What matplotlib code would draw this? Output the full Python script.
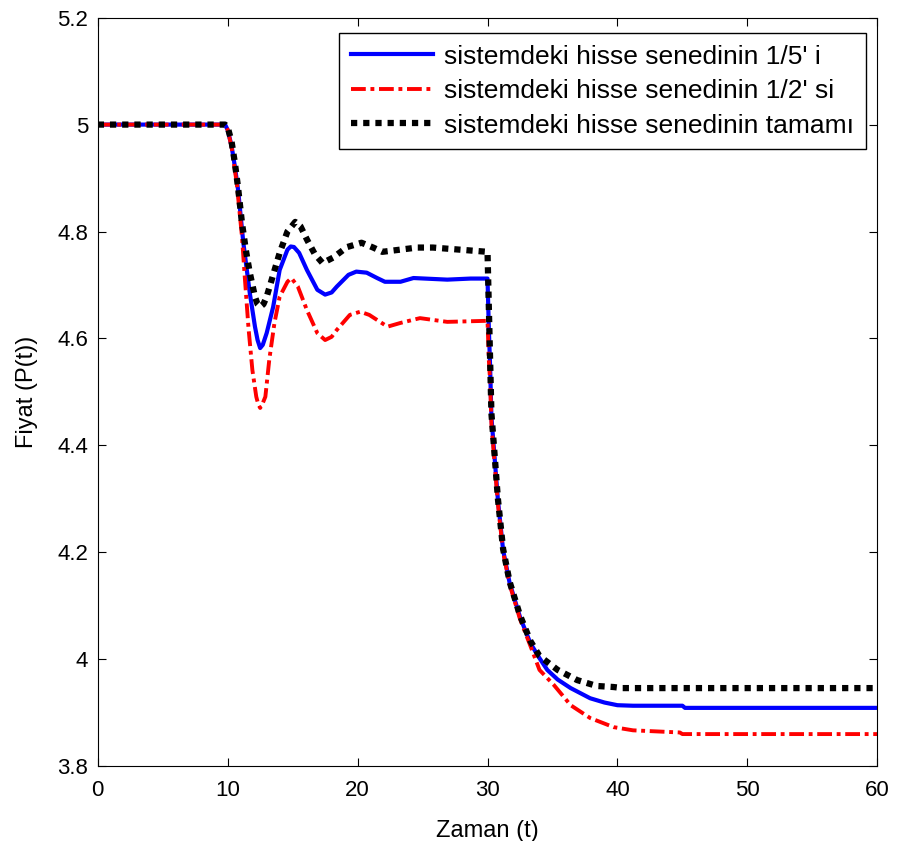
import numpy as np
import matplotlib
matplotlib.use('Agg')
import matplotlib.pyplot as plt
from matplotlib.ticker import FuncFormatter

plt.rcParams['font.family'] = ['Liberation Sans', 'DejaVu Sans']

# ---- data ----
t_blue = [0, 9.8, 10.0, 10.3, 10.55, 10.8, 11.2, 11.7, 12.1, 12.3, 12.5, 12.7, 13.0, 13.5, 14.0, 14.6, 14.85,
          15.1, 15.5, 16.1, 16.9, 17.5, 18.0, 18.4, 19.3, 19.9, 20.7, 21.5, 22.1, 23.3, 24.3, 26.9,
          28.7, 30.0, 30.1, 30.2, 30.3, 30.6, 30.8, 31.2, 31.7, 32.5, 33.3, 34.0,
          34.6, 35.4, 36.4, 37.9, 39.0, 40.0, 41.2, 45.0, 45.2, 60]
p_blue = [5.0, 5.0, 4.99, 4.960, 4.922, 4.878, 4.780, 4.685, 4.622, 4.597, 4.582, 4.588, 4.610, 4.659, 4.728, 4.766, 4.772,
          4.771, 4.760, 4.728, 4.691, 4.682, 4.686, 4.697, 4.719, 4.725, 4.723, 4.713, 4.706, 4.706, 4.713, 4.710,
          4.712, 4.712, 4.62, 4.547, 4.453, 4.360, 4.298, 4.204, 4.143, 4.079, 4.030, 4.002,
          3.980, 3.962, 3.946, 3.927, 3.919, 3.914, 3.913, 3.913, 3.909, 3.909]

t_red = [0, 9.8, 10.0, 10.3, 10.7, 11.1, 11.3, 11.6, 11.9, 12.2, 12.35, 12.5, 12.65, 12.9, 13.2, 13.6, 14.0,
         14.6, 14.9, 15.4, 16.1, 16.9, 17.5, 18.0, 18.4, 19.4, 20.2, 20.9, 22.3, 23.3, 24.8, 26.9, 30.0,
         30.1, 30.2, 30.3, 30.6, 30.8, 31.2, 31.7, 32.5, 33.3, 34.0, 35.1, 36.4,
         37.9, 39.7, 41.2, 44.8, 45.0, 60]
p_red = [5.0, 5.0, 4.99, 4.958, 4.890, 4.790, 4.720, 4.620, 4.541, 4.491, 4.477, 4.470, 4.476, 4.491, 4.560, 4.629, 4.678,
         4.706, 4.713, 4.697, 4.653, 4.610, 4.597, 4.603, 4.616, 4.644, 4.650, 4.644, 4.622, 4.629, 4.638, 4.631, 4.633,
         4.56, 4.52, 4.44, 4.350, 4.290, 4.200, 4.140, 4.075, 4.025, 3.980, 3.952, 3.914,
         3.890, 3.873, 3.867, 3.863, 3.860, 3.860]

t_black = [0, 9.8, 10.0, 10.3, 10.55, 10.8, 11.1, 11.4, 11.7, 12.1, 12.3, 12.5, 12.75, 13.0, 13.5, 14.0, 14.6, 15.2,
           15.6, 16.1, 16.7, 17.3, 18.1, 19.2, 20.3, 21.2, 21.9, 24.6, 25.8, 30.0, 30.1, 30.2,
           30.3, 30.6, 30.8, 31.2, 31.7, 32.5, 33.3, 34.0, 35.4, 36.9, 38.4, 39.7,
           40.4, 60]
p_black = [5.0, 5.0, 4.995, 4.968, 4.929, 4.882, 4.816, 4.765, 4.723, 4.678, 4.664, 4.659, 4.664, 4.678, 4.719, 4.760, 4.800, 4.818,
           4.810, 4.785, 4.758, 4.741, 4.751, 4.771, 4.779, 4.770, 4.762, 4.770, 4.770, 4.762, 4.66, 4.56,
           4.46, 4.365, 4.300, 4.206, 4.145, 4.082, 4.034, 4.006, 3.980, 3.961, 3.950, 3.948,
           3.946, 3.946]

labels = ["sistemdeki hisse senedinin 1/5' i",
          "sistemdeki hisse senedinin 1/2' si",
          "sistemdeki hisse senedinin tamamı"]

x_ticks = [0, 10, 20, 30, 40, 50, 60]
y_ticks = [3.8, 4.0, 4.2, 4.4, 4.6, 4.8, 5.0, 5.2]

fig = plt.figure(figsize=(8.97, 8.41), dpi=100)
ax = fig.add_axes([0.109, 0.089, 0.869, 0.890])

ax.plot(t_blue, p_blue, color='#0000ff', lw=3, ls='-', label=labels[0])
ax.plot(t_red, p_red, color='#ff0000', lw=2.8, ls=(0, (3.8, 1.2, 1, 1.2)), label=labels[1])
ax.plot(t_black, p_black, color='black', lw=4.5, ls=(0, (1, 0.95)), label=labels[2])

ax.set_xlim(0, 60)
ax.set_ylim(3.8, 5.2)
ax.set_xticks(x_ticks)
ax.set_yticks(y_ticks)
ax.yaxis.set_major_formatter(FuncFormatter(lambda v, p: '%g' % round(v, 2)))
ax.tick_params(direction='in', top=True, right=True, labelsize=16, length=6)
ax.tick_params(axis='x', pad=10)
ax.tick_params(axis='y', pad=7)
ax.set_xlabel('Zaman (t)', fontsize=17, labelpad=14)
ax.set_ylabel('Fiyat (P(t))', fontsize=17, labelpad=14)

leg = ax.legend(loc='upper right', bbox_to_anchor=(0.986, 0.98), borderaxespad=0,
                fontsize=19, frameon=True, fancybox=False,
                edgecolor='black', framealpha=1, handlelength=3.1, handletextpad=0.45,
                labelspacing=0.4, borderpad=0.45)
leg.get_frame().set_linewidth(1.0)

fig.savefig('out.png', dpi=100, facecolor='white')
